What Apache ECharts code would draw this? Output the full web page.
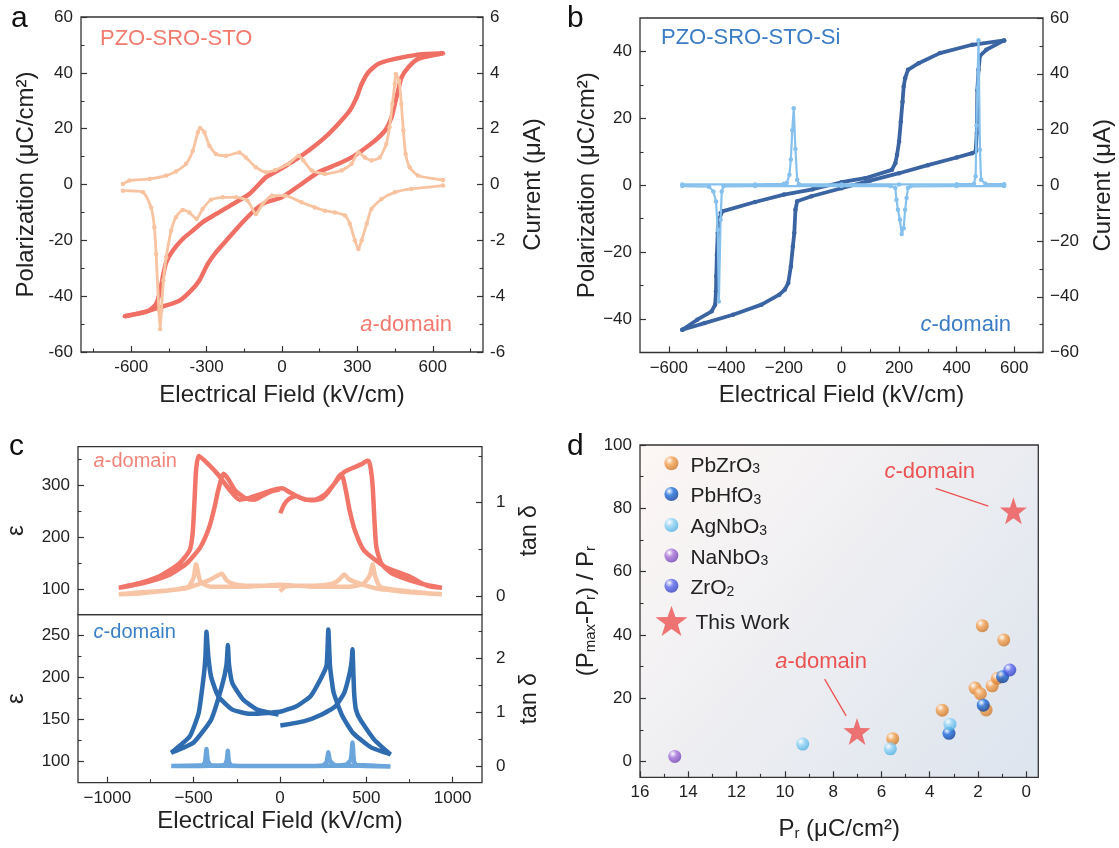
<!DOCTYPE html>
<html><head><meta charset="utf-8">
<script src="https://cdn.jsdelivr.net/npm/echarts@6/dist/echarts.min.js"></script>
<style>html,body{margin:0;padding:0;background:#fff}#c{width:1119px;height:848px}</style>
</head><body><div id="c"></div>
<script>
// ---------- Panel a data (E kV/cm, P uC/cm2 ; I uA) ----------
const aPE_asc = [[-626,-47.2],[-554,-45.8],[-474,-43.7],[-408,-41.6],[-362,-38],[-329,-34.4],[-296,-28.5],[-263,-24.3],[-210,-18.9],[-157,-13.5],[-104,-8.8],[-64,-6.4],[-1,-4.6],[78,0.2],[145,4.4],[224,7.4],[277,9.7],[317,12.1],[370,15.7],[410,19.3],[436,24.1],[449,28.8],[462,33.6],[476,38.4],[503,42],[542,45],[641,47]];
const aPE_desc = [[641,47],[542,46.5],[449,45],[383,43.2],[344,40.2],[317,36],[297,31.2],[270,26.5],[224,21.7],[171,16.9],[105,12.1],[39,8],[-27,4.4],[-64,2.6],[-130,-3.4],[-196,-7],[-263,-10.6],[-316,-13.5],[-355,-16.5],[-395,-19.5],[-435,-23.7],[-461,-27.9],[-472,-32],[-485,-38],[-501,-42.8],[-534,-45.4],[-626,-47.2]];
const aI_asc = [[-633,0.02],[-607,0.14],[-527,0.2],[-461,0.32],[-422,0.47],[-382,0.74],[-355,1.21],[-335,1.87],[-326,2.02],[-309,1.87],[-289,1.39],[-263,1.09],[-223,1.03],[-170,1.15],[-144,0.97],[-104,0.62],[-64,0.44],[-27,0.52],[26,0.74],[66,1.03],[85,0.86],[118,0.5],[171,0.38],[237,0.5],[277,0.74],[304,1.15],[330,0.97],[356,0.86],[389,0.97],[415,1.45],[428,2.05],[439,2.88],[449,3.6],[453,3.96],[466,3.72],[475,2.88],[483,1.93],[492,1.09],[508,0.62],[541,0.32],[641,0.16]];
const aI_desc = [[641,-0.04],[515,-0.16],[449,-0.28],[396,-0.52],[356,-0.88],[337,-1.41],[317,-2.0],[304,-2.31],[290,-2.0],[270,-1.41],[251,-1.11],[211,-1.0],[171,-0.94],[131,-0.82],[78,-0.64],[12,-0.4],[-40,-0.4],[-77,-0.7],[-104,-1.06],[-137,-0.58],[-183,-0.46],[-236,-0.46],[-283,-0.55],[-316,-0.88],[-340,-1.23],[-369,-1.0],[-395,-0.91],[-422,-1.17],[-441,-1.65],[-461,-2.61],[-472,-3.44],[-480,-4.52],[-485,-5.18],[-490,-4.52],[-501,-2.49],[-508,-1.53],[-521,-0.82],[-553,-0.28],[-633,-0.22]];
// ---------- Panel b data ----------
const bPE_desc = [[565,43.3],[454,42],[342,39.5],[268,36.5],[231,34.5],[221,32],[216,29.5],[212,25],[206,19],[200,13.1],[193,9.1],[187,6.6],[175,4.6],[82,2.1],[0,0.9],[-100,-1.2],[-200,-2.8],[-300,-5.0],[-414,-7.8],[-420,-8.3],[-426,-10.3],[-430,-14.3],[-433,-20.8],[-435,-27.2],[-436,-31.7],[-439,-35.7],[-451,-37.7],[-501,-40.2],[-553,-43.2]];
const bPE_asc = [[-553,-43.2],[-476,-41.2],[-377,-38.7],[-278,-35.7],[-216,-32.7],[-197,-31.2],[-185,-29.2],[-176,-24.3],[-169,-18.3],[-164,-14.3],[-160,-7.3],[-154,-4.8],[-104,-3.3],[0,-0.9],[100,1.4],[200,3.6],[300,6.0],[400,8.3],[454,9.6],[466,10.1],[470,15.6],[472,28.5],[476,34.5],[481,38.7],[503,40.5],[565,43.3]];
const bI_asc = [[-553,0.3],[-300,0.3],[-200,0.5],[-190,0.8],[-181,3.8],[-176,9.2],[-171,19.7],[-166,27.6],[-160,13],[-154,2],[-148,0.4],[0,0.3],[200,0.3],[400,0.4],[460,0.5],[466,3.2],[469,21.4],[472,34.9],[476,52],[481,12.7],[485,2],[500,0.5],[565,0.4]];
const bI_desc = [[565,-0.3],[400,-0.3],[240,-0.4],[231,-1],[226,-4.6],[221,-8.8],[216,-15.4],[209,-17.5],[203,-12.4],[196,-8.8],[191,-5.2],[187,-1],[170,-0.3],[0,-0.3],[-300,-0.3],[-410,-0.4],[-416,-2.2],[-420,-12.4],[-426,-41.7],[-430,-16],[-436,-5.8],[-445,-2.2],[-460,-0.5],[-553,-0.3]];
// ---------- Panel c data ----------
const cA_eps = [[2,246],[23,262],[53,274],[95,279],[150,272],[200,272],[260,282],[320,305],[370,325],[420,333],[470,340],[506,347],[516,345],[527,329],[537,297],[547,233],[558,181],[588,149],[650,130],[753,117],[850,108],[938,102.6],[850,107],[753,124],[609,143],[486,175],[434,213],[403,252],[383,287],[366,313],[352,321],[321,306],[280,287],[239,274],[177,271],[115,276],[53,287],[12,294],[-49,290],[-111,283],[-173,276],[-235,272],[-290,290],[-358,320],[-420,342],[-471,356],[-486,329],[-496,265],[-506,207],[-523,175],[-584,149],[-687,127],[-790,114],[-934,102.6],[-790,112],[-646,127],[-543,149],[-461,181],[-409,220],[-379,258],[-358,290],[-327,322],[-300,312],[-260,290],[-200,275],[-150,272],[-100,280],[-50,288],[0,292]];
const cA_tan = [[0,0.05],[30,0.1],[100,0.11],[200,0.1],[300,0.1],[400,0.1],[480,0.13],[520,0.22],[537,0.34],[550,0.22],[580,0.1],[650,0.07],[750,0.05],[850,0.03],[938,0.02],[850,0.03],[750,0.04],[650,0.06],[560,0.08],[450,0.14],[400,0.18],[372,0.23],[340,0.17],[300,0.13],[200,0.11],[100,0.11],[0,0.12],[-100,0.11],[-200,0.1],[-300,0.1],[-400,0.1],[-460,0.15],[-486,0.34],[-500,0.2],[-530,0.1],[-600,0.07],[-700,0.05],[-800,0.03],[-934,0.02],[-800,0.04],[-650,0.06],[-550,0.08],[-450,0.14],[-400,0.18],[-337,0.24],[-310,0.17],[-270,0.13],[-200,0.11],[-100,0.11],[0,0.11]];
const cC_eps = [[2,143],[136,148],[239,156],[321,166],[372,182],[403,205],[415,220],[420,234],[425,205],[430,180],[440,162],[465,150],[547,126],[640,108.7],[527,117],[424,134],[362,154],[311,182],[290,213],[280,257.5],[270,215],[239,200],[177,178],[95,166],[12,160],[-70,158],[-173,157],[-276,162],[-358,178],[-399,201],[-415,225],[-426,254.7],[-432,225],[-440,205],[-471,158],[-523,130],[-630,110.7],[-502,122.5],[-399,150],[-337,189.6],[-310,215],[-302,239],[-295,215],[-276,193.5],[-214,174],[-132,162],[-8,156]];
const cC_tan = [[0,0.01],[200,0.01],[380,0.03],[410,0.12],[420,0.44],[428,0.1],[440,0.03],[500,0.02],[640,0.0],[500,0.01],[320,0.02],[290,0.1],[280,0.26],[270,0.08],[250,0.02],[100,0.01],[-200,0.01],[-400,0.02],[-418,0.1],[-426,0.32],[-434,0.08],[-450,0.02],[-630,0.01],[-450,0.01],[-320,0.03],[-308,0.12],[-302,0.29],[-296,0.08],[-280,0.02],[-150,0.01],[0,0.01]];
// ---------- Panel d data (Pr, (Pmax-Pr)/Pr) ----------
const dPbZrO3 = [[5.53,7.2],[3.48,16.2],[2.12,23.2],[1.9,21.4],[1.82,42.9],[1.66,16.3],[1.41,23.9],[1.19,26.3],[0.93,38.4]];
const dPbHfO3 = [[3.2,8.9],[1.78,17.8],[0.98,26.8]];
const dAgNbO3 = [[9.26,5.5],[5.63,4.0],[3.16,11.8]];
const dNaNbO3 = [[14.56,1.6]];
const dZrO2 = [[0.68,28.9]];
const dThisWork = [[7.01,9.5],[0.53,79.2]];
const dArrowC = [[3.75,86.3],[1.57,80.7]];
const dArrowA = [[8.35,26.0],[7.46,14.4]];
const dLabelC = [5.87,91.6];
const dLabelA = [10.4,31.6];
// ---------- tick values ----------
const aXMajor = [-600,-300,0,300,600], aXMinor = [-750,-450,-150,150,450,750];
const aYMajor = [-60,-40,-20,0,20,40,60], aYMinor = [-50,-30,-10,10,30,50];
const aY2Major = [-6,-4,-2,0,2,4,6], aY2Minor = [-5,-3,-1,1,3,5];
const bXMajor = [-600,-400,-200,0,200,400,600], bXMinor = [-500,-300,-100,100,300,500];
const bYMajor = [-40,-20,0,20,40], bYMinor = [-30,-10,10,30];
const bY2Major = [-60,-40,-20,0,20,40,60], bY2Minor = [-50,-30,-10,10,30,50];
const cXMajor = [-1000,-500,0,500,1000], cXMinor = [-750,-250,250,750];
const cAYMajor = [100,200,300], cAYMinor = [150,250,350];
const cAY2Major = [0,1], cAY2Minor = [0.5,1.5];
const cCYMajor = [100,150,200,250], cCYMinor = [125,175,225];
const cCY2Major = [0,1,2], cCY2Minor = [0.5,1.5,2.5];
const dXMajor = [0,2,4,6,8,10,12,14,16], dXMinor = [1,3,5,7,9,11,13,15];
const dYMajor = [0,20,40,60,80,100], dYMinor = [10,30,50,70,90];

const FONT = '"Liberation Sans", Arial, Helvetica, sans-serif';
const TXT = '#222';
const chart = echarts.init(document.getElementById('c'), null, {renderer:'canvas'});
const hy = v => String(v);
const mn = v => String(v).replace('-', '\u2212');

const xAxes = [], yAxes = [];
function addAxis(arr, o){
  const base = {type:'value', gridIndex:o.grid, min:o.min, max:o.max, position:o.pos, inverse:!!o.inverse,
    splitLine:{show:false}, axisLine:{show:false, onZero:false}};
  const main = Object.assign({}, base, {
    axisTick:{show:!!o.majors, inside:true, length:6, lineStyle:{color:'#333', width:1.2}, customValues:o.majors},
    axisLabel:{show:!!o.majors, customValues:o.majors, formatter:o.fmt, color:TXT, fontSize:17, fontFamily:FONT, margin:o.margin==null?7:o.margin},
    name:o.name||'', nameLocation:'middle', nameGap:o.nameGap||0, nameRotate:o.nameRotate,
    nameTextStyle:Object.assign({color:TXT, fontSize:24, fontFamily:FONT}, o.nameStyle||{})
  });
  const idx = arr.length;
  arr.push(main);
  if (o.minors) arr.push(Object.assign({}, base, {
    axisTick:{show:true, inside:true, length:3.5, lineStyle:{color:'#333', width:1.1}, customValues:o.minors},
    axisLabel:{show:false}, name:''
  }));
  return idx;
}
const subRich = {
  n:{fontSize:24, fontFamily:FONT, color:TXT, verticalAlign:'bottom', lineHeight:28},
  s:{fontSize:15, fontFamily:FONT, color:TXT, verticalAlign:'bottom', lineHeight:12}
};
// panel a
const xa = addAxis(xAxes,{grid:0,min:-800,max:800,pos:'bottom',majors:aXMajor,minors:aXMinor,fmt:hy,name:'Electrical Field (kV/cm)',nameGap:31});
const ya = addAxis(yAxes,{grid:0,min:-60,max:60,pos:'left',majors:aYMajor,minors:aYMinor,fmt:hy,margin:8,name:'Polarization (\u03bcC/cm\u00b2)',nameGap:43,nameRotate:90});
const ya2 = addAxis(yAxes,{grid:0,min:-6,max:6,pos:'right',majors:aY2Major,minors:aY2Minor,fmt:hy,name:'Current (\u03bcA)',nameGap:38,nameRotate:90});
// panel b
const xb = addAxis(xAxes,{grid:1,min:-700,max:700,pos:'bottom',majors:bXMajor,minors:bXMinor,fmt:mn,name:'Electrical Field (kV/cm)',nameGap:31});
const yb = addAxis(yAxes,{grid:1,min:-50,max:50,pos:'left',majors:bYMajor,minors:bYMinor,fmt:mn,margin:8,name:'Polarization (\u03bcC/cm\u00b2)',nameGap:40,nameRotate:90});
const yb2 = addAxis(yAxes,{grid:1,min:-60,max:60,pos:'right',majors:bY2Major,minors:bY2Minor,fmt:mn,name:'Current (\u03bcA)',nameGap:48,nameRotate:90});
// panel c
const xc1 = addAxis(xAxes,{grid:2,min:-1170,max:1170,pos:'bottom'});
const xc2 = addAxis(xAxes,{grid:3,min:-1170,max:1170,pos:'bottom',majors:cXMajor,minors:cXMinor,fmt:mn,name:'Electrical Field (kV/cm)',nameGap:27});
const yc1 = addAxis(yAxes,{grid:2,min:51,max:374,pos:'left',majors:cAYMajor,minors:cAYMinor,fmt:hy,margin:8,name:'\u03b5',nameGap:50,nameRotate:90});
const yc1b = addAxis(yAxes,{grid:2,min:-0.2,max:1.6,pos:'right',majors:cAY2Major,minors:cAY2Minor,fmt:hy,margin:14,name:'tan \u03b4',nameGap:36,nameRotate:90,nameStyle:{fontSize:23}});
const yc2 = addAxis(yAxes,{grid:3,min:75,max:275,pos:'left',majors:cCYMajor,minors:cCYMinor,fmt:hy,margin:8,name:'\u03b5',nameGap:50,nameRotate:90});
const yc2b = addAxis(yAxes,{grid:3,min:-0.3,max:2.8,pos:'right',majors:cCY2Major,minors:cCY2Minor,fmt:hy,margin:14,name:'tan \u03b4',nameGap:36,nameRotate:90,nameStyle:{fontSize:23}});
// panel d
const xd = addAxis(xAxes,{grid:4,min:-0.5,max:16,pos:'bottom',inverse:true,majors:dXMajor,minors:dXMinor,fmt:hy,
  name:'{n|P}{s|r}{n| (\u03bcC/cm\u00b2)}',nameGap:36,nameStyle:{rich:subRich}});
const yd = addAxis(yAxes,{grid:4,min:-5,max:100,pos:'left',majors:dYMajor,minors:dYMinor,fmt:hy,margin:8,
  name:'{n|(P}{s|max}{n|-P}{s|r}{n|) / P}{s|r}',nameGap:42,nameRotate:90,nameStyle:{rich:subRich}});

function line(name, data, xi, yi, color, width, sym, smooth, z){
  return {type:'line', name, data, xAxisIndex:xi, yAxisIndex:yi, symbol:'circle', symbolSize:sym, showSymbol:sym>0,
    showAllSymbol:true, smooth:smooth, lineStyle:{color, width}, itemStyle:{color}, z:z||2, silent:true, animation:false};
}
function sphere(base, dark){
  return new echarts.graphic.RadialGradient(0.35,0.3,0.75,[{offset:0,color:'#ffffff'},{offset:0.4,color:base},{offset:1,color:dark}]);
}
const STAR = 'path://M50,2 L61.8,36.2 L98,36.6 L69.1,58.3 L79.7,92.9 L50,72.2 L20.3,92.9 L30.9,58.3 L2,36.6 L38.2,36.2 Z';
function scat(name, data, fill, size, symbol, z){
  return {type:'scatter', name, data, xAxisIndex:xd, yAxisIndex:yd, symbol:symbol||'circle', symbolSize:size,
    itemStyle:{color:fill}, z:z||3, animation:false};
}
const cPE_a='#f06f64', cI_a='#f8c3a0', cPE_b='#3b64a3', cI_b='#86c1ee';
const redStar = '#ec5252';

const series = [
  line('aPE1', aPE_asc, xa, ya, cPE_a, 4.4, 4, 0.2, 2),
  line('aPE2', aPE_desc, xa, ya, cPE_a, 4.4, 4, 0.2, 2),
  line('aI1', aI_asc, xa, ya2, cI_a, 2.8, 4.5, 0.2, 3),
  line('aI2', aI_desc, xa, ya2, cI_a, 2.8, 4.5, 0.2, 3),
  line('bPE1', bPE_desc, xb, yb, cPE_b, 3.8, 4.5, false, 2),
  line('bPE2', bPE_asc, xb, yb, cPE_b, 3.8, 4.5, false, 2),
  line('bI1', bI_asc, xb, yb2, cI_b, 2.2, 4.5, false, 3),
  line('bI2', bI_desc, xb, yb2, cI_b, 2.2, 4.5, false, 3),
  line('cAeps', cA_eps, xc1, yc1, '#f2756a', 4.5, 0, 0.2, 2),
  line('cAtan', cA_tan, xc1, yc1b, '#f7c5a5', 4.5, 0, 0.2, 2),
  line('cCeps', cC_eps, xc2, yc2, '#2f6caf', 4.5, 0, 0.15, 2),
  line('cCtan', cC_tan, xc2, yc2b, '#6aa5dc', 4.5, 0, 0.15, 2),
  scat('PbZrO3', dPbZrO3, sphere('#f6a352','#c87426'), 13),
  scat('PbHfO3', dPbHfO3, sphere('#1f6fe0','#0b3c94'), 13),
  scat('AgNbO3', dAgNbO3, sphere('#92d5f7','#4aaee0'), 13),
  scat('NaNbO3', dNaNbO3, sphere('#a874dc','#6d3fb0'), 13),
  scat('ZrO2', dZrO2, sphere('#5d6cf0','#2f3cbc'), 13),
  Object.assign(scat('This Work', dThisWork, redStar, 27, STAR, 4), {
    markLine:{silent:true, symbol:['none','arrow'], symbolSize:[0,9], animation:false,
      lineStyle:{color:redStar, width:1.3, type:'solid'}, label:{show:false},
      data:[[{coord:dArrowC[0]},{coord:dArrowC[1]}],[{coord:dArrowA[0]},{coord:dArrowA[1]}]]},
    markPoint:{silent:true, symbol:'circle', symbolSize:0, animation:false,
      label:{show:true, position:'right', distance:0, formatter:p=>p.name==='c'?'{i|c}{n|-domain}':'{i|a}{n|-domain}',
        rich:{i:{fontSize:22, fontStyle:'italic', fontFamily:FONT, color:redStar}, n:{fontSize:22, fontFamily:FONT, color:redStar}}},
      data:[{name:'c', coord:dLabelC},{name:'a', coord:dLabelA}]}
  })
];

const legRich = {
  n:{fontSize:21, fontFamily:FONT, color:TXT, verticalAlign:'bottom', lineHeight:26},
  s:{fontSize:14, fontFamily:FONT, color:TXT, verticalAlign:'bottom', lineHeight:10}
};
const chemFmt = nm => nm === 'This Work' ? '{n|This Work}' : nm.replace(/^(.*?)(\d)$/, '{n|$1}{s|$2}');
const legRows = [['PbZrO3',463.3],['PbHfO3',494],['AgNbO3',525],['NaNbO3',555.5],['ZrO2',585.7]];
const legends = legRows.map(r => ({data:[r[0]], left:659.4, top:r[1]-13, itemWidth:14, itemHeight:14, selectedMode:false,
  formatter:chemFmt, textStyle:{rich:legRich, padding:[0,0,0,7]}}));
legends.push({data:['This Work'], left:650.5, top:616.7-16, itemWidth:32, itemHeight:31, selectedMode:false,
  formatter:chemFmt, textStyle:{rich:legRich, padding:[0,0,0,3]}});

const txt = (o) => Object.assign({type:'text', silent:true}, o);
const rich20 = (col, fs) => ({i:{fontSize:fs, fontStyle:'italic', fontFamily:FONT, fill:col}, n:{fontSize:fs, fontFamily:FONT, fill:col}});
const graphics = [
  txt({left:11, top:4, style:{text:'a', font:'30px '+FONT, fill:'#111'}}),
  txt({left:567, top:4, style:{text:'b', font:'30px '+FONT, fill:'#111'}}),
  txt({left:9, top:432, style:{text:'c', font:'30px '+FONT, fill:'#111'}}),
  txt({left:567, top:432, style:{text:'d', font:'30px '+FONT, fill:'#111'}}),
  txt({left:100, top:28, style:{text:'PZO-SRO-STO', font:'22px '+FONT, fill:'#f27b70'}}),
  txt({right:667, top:314, style:{text:'{i|a}{n|-domain}', rich:rich20('#f27b70',22)}}),
  txt({left:661, top:27, style:{text:'PZO-SRO-STO-Si', font:'22px '+FONT, fill:'#3b7cc4'}}),
  txt({right:108, top:314, style:{text:'{i|c}{n|-domain}', rich:rich20('#3b7cc4',22)}}),
  txt({left:93.6, top:451, style:{text:'{i|a}{n|-domain}', rich:rich20('#f2857a',20)}}),
  txt({left:93.6, top:622, style:{text:'{i|c}{n|-domain}', rich:rich20('#3a80c6',20)}})
];

const border = {show:true, borderColor:'#333', borderWidth:1.3, backgroundColor:'transparent'};
const option = {
  animation:false,
  textStyle:{fontFamily:FONT},
  grid:[
    Object.assign({left:81, top:17, width:402, height:335}, border),
    Object.assign({left:640, top:18, width:403, height:334.5}, border),
    Object.assign({left:78, top:446.7, width:404, height:168}, border),
    Object.assign({left:78, top:614.7, width:404, height:168}, border),
    Object.assign({left:640, top:445, width:398.3, height:332.3}, border, {
      backgroundColor:new echarts.graphic.LinearGradient(0,0,1,1,[{offset:0,color:'#fdf7f5'},{offset:1,color:'#dce4ee'}])})
  ],
  xAxis:xAxes, yAxis:yAxes, series, legend:legends, graphic:graphics
};
chart.setOption(option);
</script></body></html>
